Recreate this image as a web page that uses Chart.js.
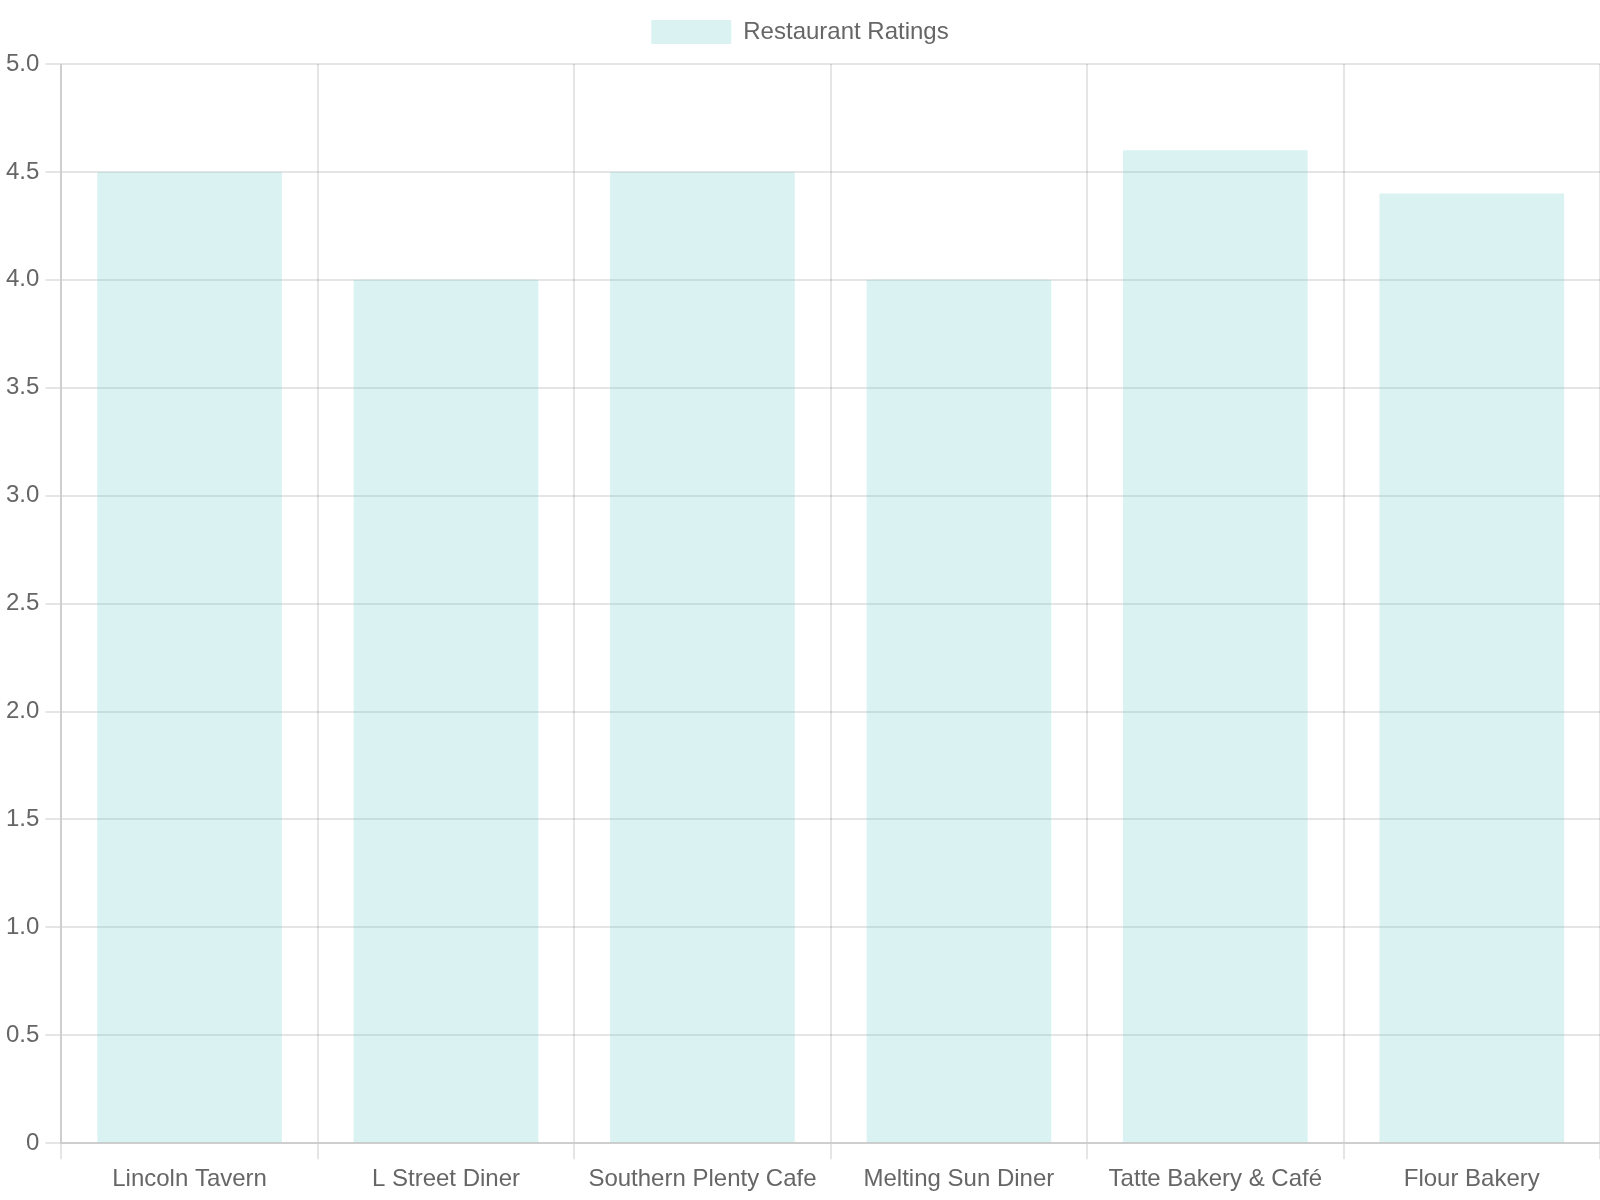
<!DOCTYPE html>
<html>
<head>
<meta charset="utf-8">
<script src="https://cdn.jsdelivr.net/npm/chart.js@4/dist/chart.umd.min.js"></script>
<style>
  html, body { margin: 0; padding: 0; background: #fff; width: 1600px; height: 1200px; overflow: hidden; }
  #wrap { width: 1600px; height: 1200px; }
  canvas { display: block; }
</style>
</head>
<body>
<div id="wrap"><canvas id="c" width="800" height="600"></canvas></div>
<script>
const categories = ["Lincoln Tavern", "L Street Diner", "Southern Plenty Cafe", "Melting Sun Diner", "Tatte Bakery & Café", "Flour Bakery"];
const ratings = [4.5, 4.0, 4.5, 4.0, 4.6, 4.4];
const seriesName = "Restaurant Ratings";

const canvas = document.getElementById('c');
const chart = new Chart(canvas, {
  type: 'bar',
  data: {
    labels: categories,
    datasets: [{
      label: seriesName,
      data: ratings,
      backgroundColor: 'rgba(75, 192, 192, 0.2)',
      borderColor: 'rgba(75, 192, 192, 0.2)',
      borderWidth: 0
    }]
  },
  options: {
    responsive: false,
    animation: false,
    devicePixelRatio: 2,
    plugins: { legend: { display: true } },
    scales: {
      y: { beginAtZero: true, max: 5 }
    }
  }
});
canvas.style.width = '1600px';
canvas.style.height = '1200px';
</script>
</body>
</html>
